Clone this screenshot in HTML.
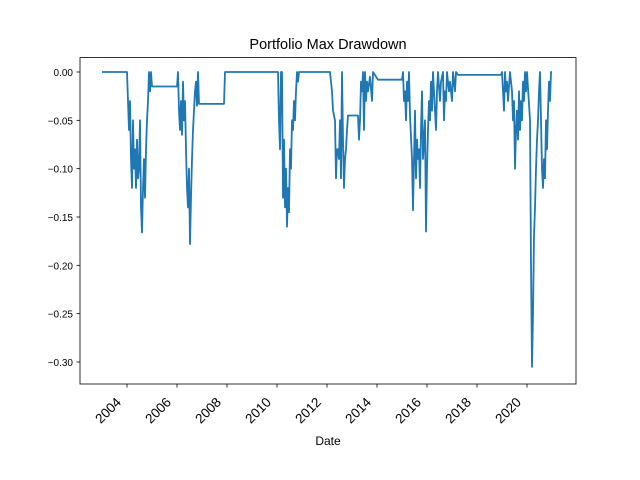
<!DOCTYPE html>
<html><head><meta charset="utf-8"><style>
body{margin:0;background:#fff}
svg{display:block;font-family:"Liberation Sans","DejaVu Sans",sans-serif}
</style></head><body>
<svg id="chart" width="640" height="480">
<rect width="640" height="480" fill="#fff"/>
<text x="328" y="49" font-size="14.5" text-anchor="middle">Portfolio Max Drawdown</text>
<text x="328" y="445" font-size="12" text-anchor="middle">Date</text>
<g id="grid"></g>
<path id="line" fill="none" stroke="#1f77b4" stroke-width="1.8" stroke-linejoin="round"/>
<rect x="80" y="57.6" width="496" height="326.4" fill="none" stroke="#000" stroke-width="0.8"/>
</svg>
<script>
const dates=[2003.00,2004.00,2004.04,2004.08,2004.12,2004.16,2004.20,2004.24,2004.28,2004.32,2004.36,2004.40,2004.44,2004.48,2004.52,2004.56,2004.60,2004.64,2004.68,2004.72,2004.76,2004.80,2004.84,2004.88,2004.92,2004.96,2005.00,2006.00,2006.04,2006.08,2006.12,2006.16,2006.20,2006.24,2006.28,2006.32,2006.36,2006.40,2006.44,2006.48,2006.52,2006.56,2006.60,2006.64,2006.68,2006.72,2006.76,2006.80,2006.84,2006.88,2007.88,2007.92,2010.04,2010.08,2010.12,2010.16,2010.20,2010.24,2010.28,2010.32,2010.36,2010.40,2010.44,2010.48,2010.52,2010.56,2010.60,2010.64,2010.68,2010.72,2010.76,2010.80,2010.84,2010.88,2012.12,2012.20,2012.24,2012.32,2012.36,2012.40,2012.44,2012.48,2012.52,2012.56,2012.60,2012.64,2012.68,2012.72,2012.76,2012.80,2012.84,2013.24,2013.28,2013.32,2013.36,2013.40,2013.44,2013.48,2013.52,2013.56,2013.60,2013.64,2013.72,2013.80,2013.84,2014.04,2015.00,2015.04,2015.08,2015.12,2015.16,2015.20,2015.24,2015.28,2015.32,2015.40,2015.44,2015.48,2015.52,2015.56,2015.60,2015.64,2015.68,2015.72,2015.76,2015.80,2015.84,2015.88,2015.92,2015.96,2016.00,2016.04,2016.08,2016.12,2016.16,2016.20,2016.24,2016.28,2016.36,2016.40,2016.44,2016.52,2016.56,2016.64,2016.68,2016.72,2016.76,2016.80,2016.88,2016.92,2017.00,2017.04,2017.12,2017.16,2017.24,2018.96,2019.00,2019.04,2019.08,2019.12,2019.16,2019.20,2019.24,2019.32,2019.40,2019.44,2019.48,2019.52,2019.56,2019.60,2019.64,2019.68,2019.72,2019.76,2019.80,2019.84,2019.88,2019.92,2019.96,2020.00,2020.12,2020.16,2020.20,2020.24,2020.28,2020.32,2020.36,2020.40,2020.44,2020.48,2020.52,2020.56,2020.60,2020.64,2020.68,2020.72,2020.76,2020.80,2020.84,2020.88,2020.92,2020.96,2021.00];
const drawdowns=[0,0,-0.03,-0.06,-0.03,-0.09,-0.12,-0.05,-0.10,-0.08,-0.12,-0.07,-0.11,-0.10,-0.05,-0.14,-0.166,-0.12,-0.09,-0.13,-0.08,-0.05,-0.03,0,-0.02,0,-0.015,-0.015,0,-0.04,-0.06,-0.03,-0.065,-0.01,-0.05,-0.03,-0.08,-0.12,-0.14,-0.10,-0.178,-0.13,-0.09,-0.06,-0.04,-0.02,-0.01,-0.035,0,-0.033,-0.033,0,0,-0.05,-0.08,0,0,-0.13,-0.07,-0.14,-0.10,-0.16,-0.12,-0.145,-0.08,-0.10,-0.05,-0.06,-0.03,-0.05,-0.02,0,-0.01,0,0,-0.02,-0.04,-0.05,-0.11,-0.08,-0.08,-0.09,-0.05,-0.11,0,-0.07,-0.12,-0.09,-0.08,-0.06,-0.045,-0.045,-0.07,-0.05,-0.01,-0.02,0,-0.06,0,-0.03,-0.01,-0.02,-0.005,-0.03,0,-0.008,-0.008,0,-0.03,-0.02,-0.05,-0.01,-0.03,0,-0.045,-0.09,-0.143,-0.09,-0.04,-0.11,-0.07,-0.09,-0.08,-0.12,-0.06,-0.02,-0.09,-0.07,-0.05,-0.165,-0.10,-0.06,-0.03,-0.05,-0.01,-0.04,0,-0.02,-0.06,-0.02,0,-0.03,-0.01,0,-0.05,-0.02,-0.03,0,-0.02,-0.01,-0.03,0,-0.02,0,-0.003,-0.003,0,-0.02,-0.04,0,-0.02,-0.01,-0.03,0,-0.02,-0.05,-0.03,-0.10,-0.06,-0.04,-0.07,-0.02,-0.06,-0.03,-0.05,-0.01,-0.03,0,-0.02,0,-0.05,-0.20,-0.305,-0.25,-0.17,-0.14,-0.10,-0.07,-0.05,-0.02,0,-0.05,-0.10,-0.12,-0.09,-0.11,-0.05,-0.08,-0.04,-0.01,-0.03,0,0];
const yTicks=[0,-0.05,-0.10,-0.15,-0.20,-0.25,-0.30];
const yTickLabels=["0.00","−0.05","−0.10","−0.15","−0.20","−0.25","−0.30"];
const xTicks=[2004,2006,2008,2010,2012,2014,2016,2018,2020];
const xTickLabels=["2004","2006","2008","2010","2012","2014","2016","2018","2020"];

const NS="http://www.w3.org/2000/svg";
const xS=yr=>102+(yr-2003)*25;
const yS=v=>72-v*966.7;
const g=document.getElementById('grid');
yTicks.forEach((t,i)=>{
  const y=yS(t);
  const l=document.createElementNS(NS,'line');
  l.setAttribute('x1',76.5);l.setAttribute('x2',80);l.setAttribute('y1',y);l.setAttribute('y2',y);
  l.setAttribute('stroke','#000');l.setAttribute('stroke-width','0.8');
  
  
  g.appendChild(l);
  const tx=document.createElementNS(NS,'text');
  tx.setAttribute('x',73);tx.setAttribute('y',y+4);tx.setAttribute('font-size','10');tx.setAttribute('text-anchor','end');
  tx.textContent=yTickLabels[i];
  
  
  g.appendChild(tx);
});
xTicks.forEach((t,i)=>{
  const x=xS(t);
  const l=document.createElementNS(NS,'line');
  l.setAttribute('x1',x);l.setAttribute('x2',x);l.setAttribute('y1',384);l.setAttribute('y2',387.5);
  l.setAttribute('stroke','#000');l.setAttribute('stroke-width','0.8');
  
  
  g.appendChild(l);
  const tx=document.createElementNS(NS,'text');
  tx.setAttribute('font-size','13.5');tx.setAttribute('text-anchor','end');
  tx.setAttribute('transform','translate('+(x-5)+',403) rotate(-45)');
  tx.textContent=xTickLabels[i];
  
  
  g.appendChild(tx);
});
let d='';
dates.forEach((yr,i)=>{d+=(i?'L':'M')+xS(yr).toFixed(1)+','+yS(drawdowns[i]).toFixed(1);});
document.getElementById('line').setAttribute('d',d);
</script>
</body></html>
